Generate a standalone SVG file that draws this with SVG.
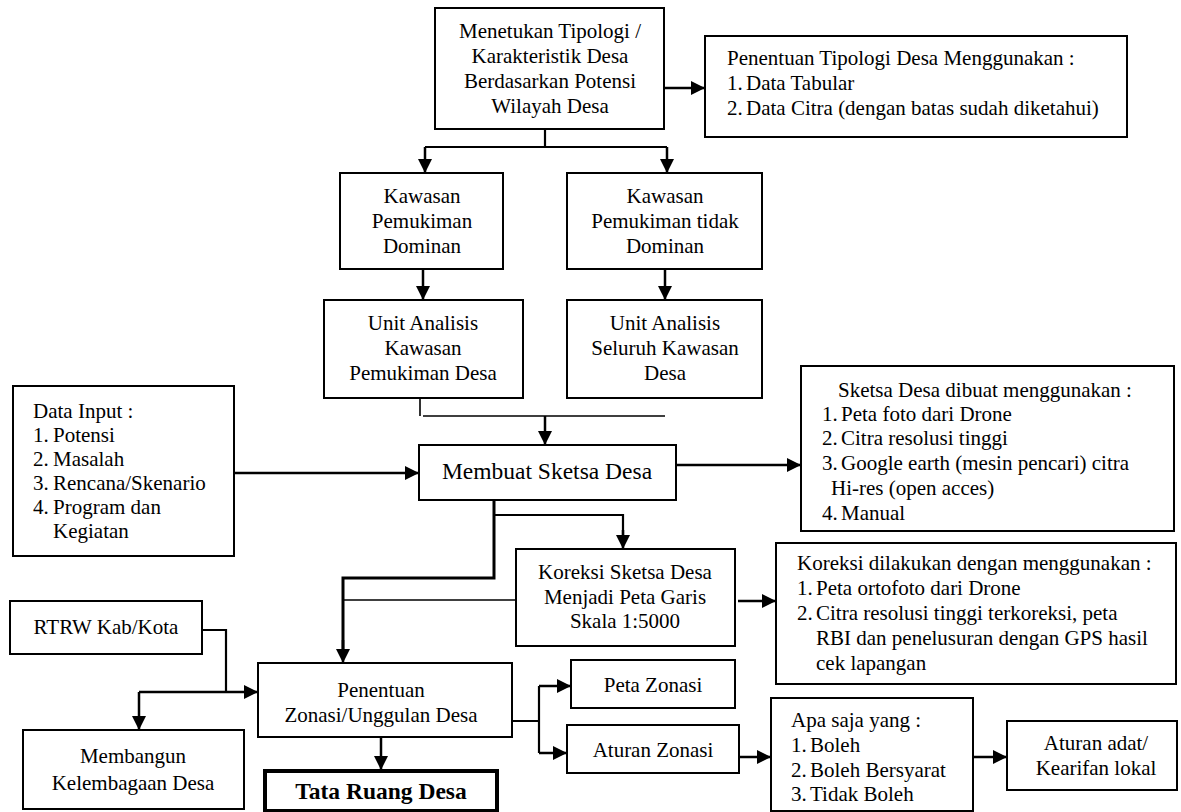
<svg xmlns="http://www.w3.org/2000/svg" width="1181" height="812" viewBox="0 0 1181 812">
<defs>
<marker id="ah" markerUnits="userSpaceOnUse" markerWidth="14" markerHeight="14" refX="14" refY="7" orient="auto">
<path d="M0,0 L14,7 L0,14 z" fill="#000"/>
</marker>
</defs>
<style>
.box{fill:#fff;stroke:#000;stroke-width:2}
.thick{fill:#fff;stroke:#000;stroke-width:4}
.t{font-family:"Liberation Serif","Times New Roman",serif;font-size:21px;fill:#000}
.c{text-anchor:middle}
.big{font-size:23.5px}
.b{font-weight:bold}
.ln{fill:none;stroke:#000;stroke-width:2.2}
.lt{fill:none;stroke:#000;stroke-width:1.6}
.lk{fill:none;stroke:#000;stroke-width:3}
.ar{fill:none;stroke:#000;stroke-width:2.5;marker-end:url(#ah)}
</style>
<rect width="1181" height="812" fill="#fff"/>
<g id="connectors">
<path class="ar" d="M664,88 H705"/>
<path class="ln" d="M545,129 V147 M425,147 H667"/>
<path class="ar" d="M425,147 V173"/>
<path class="ar" d="M667,147 V173"/>
<path class="ar" d="M423,269 V300"/>
<path class="ar" d="M665,269 V300"/>
<path class="lt" d="M420,398 V416 M423,416 H665"/>
<path class="ar" d="M545,416 V445"/>
<path class="ar" d="M234,473 H419"/>
<path class="ar" d="M676,465 H801"/>
<path class="lk" d="M494,500 V578 H343 V650"/>
<path class="ar" d="M343,640 V663"/>
<path class="ln" d="M494,515 H623 V535"/>
<path class="ar" d="M623,530 V549"/>
<path class="lt" d="M516,600 H343"/>
<path class="ar" d="M738,601 H776"/>
<path class="ln" d="M202,630 H226 V692"/>
<path class="ar" d="M139,692 H258"/>
<path class="ar" d="M139,692 V730"/>
<path class="ar" d="M381,737 V770"/>
<path class="ln" d="M512,721 H539 M539,686 V753"/>
<path class="ar" d="M539,686 H571"/>
<path class="ar" d="M539,753 H567"/>
<path class="ar" d="M739,757 H771"/>
<path class="ar" d="M973,757 H1007"/>
</g>
<g id="n-menentukan">
<rect class="box" x="435" y="8" width="229" height="121"/>
<text class="t c" x="550" y="38">Menetukan Tipologi /</text>
<text class="t c" x="550" y="63">Karakteristik Desa</text>
<text class="t c" x="550" y="88">Berdasarkan Potensi</text>
<text class="t c" x="550" y="113">Wilayah Desa</text>
</g>
<g id="n-penentuan-tipologi">
<rect class="box" x="705" y="36" width="422" height="101"/>
<text class="t" x="727" y="65">Penentuan Tipologi Desa Menggunakan :</text>
<text class="t" y="90"><tspan x="727">1.</tspan><tspan x="746">Data Tabular</tspan></text>
<text class="t" y="115"><tspan x="727">2.</tspan><tspan x="746">Data Citra (dengan batas sudah diketahui)</tspan></text>
</g>
<g id="n-kawasan-dominan">
<rect class="box" x="340" y="173" width="163" height="96"/>
<text class="t c" x="422" y="203">Kawasan</text>
<text class="t c" x="422" y="228">Pemukiman</text>
<text class="t c" x="422" y="253">Dominan</text>
</g>
<g id="n-kawasan-tidak">
<rect class="box" x="567" y="173" width="195" height="96"/>
<text class="t c" x="665" y="203">Kawasan</text>
<text class="t c" x="665" y="228">Pemukiman tidak</text>
<text class="t c" x="665" y="253">Dominan</text>
</g>
<g id="n-unit-pemukiman">
<rect class="box" x="324" y="300" width="199" height="98"/>
<text class="t c" x="423" y="330">Unit Analisis</text>
<text class="t c" x="423" y="355">Kawasan</text>
<text class="t c" x="423" y="380">Pemukiman Desa</text>
</g>
<g id="n-unit-seluruh">
<rect class="box" x="567" y="300" width="195" height="98"/>
<text class="t c" x="665" y="330">Unit Analisis</text>
<text class="t c" x="665" y="355">Seluruh Kawasan</text>
<text class="t c" x="665" y="380">Desa</text>
</g>
<g id="n-data-input">
<rect class="box" x="13" y="386" width="221" height="170"/>
<text class="t" x="33" y="418">Data Input :</text>
<text class="t" y="442"><tspan x="33">1.</tspan><tspan x="53">Potensi</tspan></text>
<text class="t" y="466"><tspan x="33">2.</tspan><tspan x="53">Masalah</tspan></text>
<text class="t" y="490"><tspan x="33">3.</tspan><tspan x="53">Rencana/Skenario</tspan></text>
<text class="t" y="514"><tspan x="33">4.</tspan><tspan x="53">Program dan</tspan></text>
<text class="t" x="53" y="538">Kegiatan</text>
</g>
<g id="n-membuat-sketsa">
<rect class="box" x="419" y="445" width="257" height="55"/>
<text class="t c big" x="547" y="479">Membuat Sketsa Desa</text>
</g>
<g id="n-sketsa-dibuat">
<rect class="box" x="801" y="366" width="373" height="165"/>
<text class="t" x="838" y="397">Sketsa Desa dibuat menggunakan :</text>
<text class="t" y="421"><tspan x="822">1.</tspan><tspan x="841">Peta foto dari Drone</tspan></text>
<text class="t" y="445"><tspan x="822">2.</tspan><tspan x="841">Citra resolusi tinggi</tspan></text>
<text class="t" y="470"><tspan x="822">3.</tspan><tspan x="841">Google earth (mesin pencari) citra</tspan></text>
<text class="t" x="831" y="495">Hi-res (open acces)</text>
<text class="t" y="520"><tspan x="822">4.</tspan><tspan x="841">Manual</tspan></text>
</g>
<g id="n-koreksi-sketsa">
<rect class="box" x="516" y="549" width="219" height="97"/>
<text class="t c" x="625" y="579">Koreksi Sketsa Desa</text>
<text class="t c" x="625" y="604">Menjadi Peta Garis</text>
<text class="t c" x="625" y="628">Skala 1:5000</text>
</g>
<g id="n-koreksi-dilakukan">
<rect class="box" x="776" y="543" width="400" height="141"/>
<text class="t" x="797" y="570">Koreksi dilakukan dengan menggunakan :</text>
<text class="t" y="595"><tspan x="797">1.</tspan><tspan x="816">Peta ortofoto dari Drone</tspan></text>
<text class="t" y="620"><tspan x="797">2.</tspan><tspan x="816">Citra resolusi tinggi terkoreksi, peta</tspan></text>
<text class="t" x="816" y="645">RBI dan penelusuran dengan GPS hasil</text>
<text class="t" x="816" y="670">cek lapangan</text>
</g>
<g id="n-rtrw">
<rect class="box" x="10" y="601" width="192" height="53"/>
<text class="t c" x="106" y="634">RTRW Kab/Kota</text>
</g>
<g id="n-penentuan-zonasi">
<rect class="box" x="258" y="663" width="254" height="74"/>
<text class="t c" x="381" y="697">Penentuan</text>
<text class="t c" x="381" y="722">Zonasi/Unggulan Desa</text>
</g>
<g id="n-membangun">
<rect class="box" x="23" y="730" width="221" height="79"/>
<text class="t c" x="133" y="763">Membangun</text>
<text class="t c" x="133" y="790">Kelembagaan Desa</text>
</g>
<g id="n-tata-ruang">
<rect class="thick" x="265" y="771" width="232" height="40"/>
<text class="t c big b" x="381" y="799">Tata Ruang Desa</text>
</g>
<g id="n-peta-zonasi">
<rect class="box" x="571" y="660" width="164" height="48"/>
<text class="t c" x="653" y="692">Peta Zonasi</text>
</g>
<g id="n-aturan-zonasi">
<rect class="box" x="567" y="725" width="172" height="48"/>
<text class="t c" x="653" y="757">Aturan Zonasi</text>
</g>
<g id="n-apa-saja">
<rect class="box" x="771" y="698" width="202" height="113"/>
<text class="t" x="791" y="727">Apa saja yang :</text>
<text class="t" y="752"><tspan x="791">1.</tspan><tspan x="810">Boleh</tspan></text>
<text class="t" y="777"><tspan x="791">2.</tspan><tspan x="810">Boleh Bersyarat</tspan></text>
<text class="t" y="801"><tspan x="791">3.</tspan><tspan x="810">Tidak Boleh</tspan></text>
</g>
<g id="n-aturan-adat">
<rect class="box" x="1007" y="721" width="170" height="69"/>
<text class="t c" x="1096" y="750">Aturan adat/</text>
<text class="t c" x="1096" y="775">Kearifan lokal</text>
</g>
</svg>
